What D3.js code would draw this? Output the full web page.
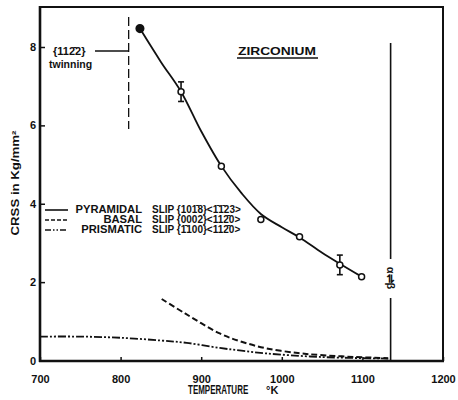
<!DOCTYPE html>
<html><head><meta charset="utf-8">
<script src="https://cdn.jsdelivr.net/npm/d3@7"></script>
<style>body{margin:0;background:#fff}svg{display:block}text{font-family:"Liberation Sans",Arial,sans-serif;font-weight:bold;fill:#111}</style>
</head><body><svg id="c" width="458" height="400"></svg>
<script>
// data
const xTicks = [700, 800, 900, 1000, 1100, 1200];
const yTicks = [0, 2, 4, 6, 8];
const pyrTemps = [824, 875, 925, 974, 1022, 1072, 1099];
const pyrValues = [8.47, 6.86, 4.96, 3.60, 3.16, 2.44, 2.14];
const pyrErr = [0, 0.25, 0, 0, 0, 0.25, 0];
const pyrCurveTemps = [824, 850, 875, 900, 925, 950, 974, 1000, 1022, 1050, 1072, 1099];
const pyrCurveValues = [8.47, 7.62, 6.86, 5.85, 4.96, 4.27, 3.74, 3.40, 3.14, 2.75, 2.47, 2.14];
const basalTemps = [851, 880, 923, 950, 981, 1020, 1047, 1090, 1132];
const basalValues = [1.57, 1.2, 0.69, 0.48, 0.31, 0.19, 0.14, 0.09, 0.06];
const prisTemps = [700, 750, 800, 850, 882, 923, 950, 981, 1047, 1132];
const prisValues = [0.61, 0.61, 0.58, 0.51, 0.45, 0.32, 0.25, 0.18, 0.09, 0.05];
const transitionTemp = 1135;
const twinTemp = 810;
const legendNames = ["PYRAMIDAL", "BASAL", "PRISMATIC"];
const legendPlanes = ["SLIP {101̄8}<1̄1̄23>", "SLIP {0002}<112̄0>", "SLIP {1̄100}<112̄0>"];

const svg = d3.select("#c");
const x = d3.scaleLinear().domain([700, 1200]).range([40, 443]);
const y = d3.scaleLinear().domain([0, 8]).range([360.5, 47]);
const ink = "#111";

// frame
svg.append("line").attr("x1",40).attr("x2",40).attr("y1",6).attr("y2",362).attr("stroke",ink).attr("stroke-width",2.6);
svg.append("line").attr("x1",39).attr("x2",444).attr("y1",361).attr("y2",361).attr("stroke",ink).attr("stroke-width",2.6);
svg.append("line").attr("x1",39).attr("x2",444).attr("y1",7).attr("y2",7).attr("stroke",ink).attr("stroke-width",2);
svg.append("line").attr("x1",443).attr("x2",443).attr("y1",6).attr("y2",362).attr("stroke",ink).attr("stroke-width",2);

// axes
const xa = svg.append("g").attr("transform","translate(0,361)")
  .call(d3.axisBottom(x).tickValues(xTicks).tickSizeInner(-4).tickSizeOuter(0).tickPadding(14).tickFormat(d3.format("d")));
xa.select(".domain").remove();
xa.selectAll("line").attr("stroke",ink).attr("stroke-width",1.5);
xa.selectAll("text").attr("font-size",11).attr("font-family","Liberation Sans, Arial, sans-serif").attr("font-weight","bold").attr("fill",ink);

const ya = svg.append("g").attr("transform","translate(40,0)")
  .call(d3.axisLeft(y).tickValues(yTicks).tickSizeInner(-5).tickSizeOuter(0).tickPadding(4).tickFormat(d3.format("d")));
ya.select(".domain").remove();
ya.selectAll("line").attr("stroke",ink).attr("stroke-width",1.5);
ya.selectAll("text").attr("font-size",11).attr("font-family","Liberation Sans, Arial, sans-serif").attr("font-weight","bold").attr("fill",ink);

// axis titles
svg.append("text").attr("transform","translate(188,394) scale(0.64,1)").attr("font-size",12.5).text("TEMPERATURE");
svg.append("text").attr("x",266).attr("y",394).attr("font-size",11).text("°K");
svg.append("text").attr("transform","translate(19,183) rotate(-90)").attr("text-anchor","middle").attr("font-size",10)
  .attr("textLength",105).attr("lengthAdjust","spacingAndGlyphs").text("CRSS  in  Kg/mm²");

// curves
const line = d3.line().x(d => x(d[0])).y(d => y(d[1])).curve(d3.curveCatmullRom);
svg.append("path").datum(d3.zip(pyrCurveTemps, pyrCurveValues))
  .attr("d", line).attr("fill","none").attr("stroke",ink).attr("stroke-width",1.8);
svg.append("path").datum(d3.zip(basalTemps, basalValues))
  .attr("d", line).attr("fill","none").attr("stroke",ink)
  .attr("stroke-width",2).attr("stroke-dasharray","6,3");
svg.append("path").datum(d3.zip(prisTemps, prisValues))
  .attr("d", line).attr("fill","none").attr("stroke",ink)
  .attr("stroke-width",1.8).attr("stroke-dasharray","8,2,2,2,2,2");

// markers
const pts = d3.zip(pyrTemps, pyrValues, pyrErr);
pts.forEach((p, i) => {
  const cx = x(p[0]), cy = y(p[1]);
  if (p[2] > 0) {
    const t = y(p[1] + p[2]), b = y(p[1] - p[2]);
    svg.append("line").attr("x1",cx).attr("x2",cx).attr("y1",t).attr("y2",b).attr("stroke",ink).attr("stroke-width",1.6);
    svg.append("line").attr("x1",cx-3).attr("x2",cx+3).attr("y1",t).attr("y2",t).attr("stroke",ink).attr("stroke-width",1.6);
    svg.append("line").attr("x1",cx-3).attr("x2",cx+3).attr("y1",b).attr("y2",b).attr("stroke",ink).attr("stroke-width",1.6);
  }
  svg.append("circle").attr("cx",cx).attr("cy",cy).attr("r", i === 0 ? 3.8 : 3)
    .attr("fill", i === 0 ? ink : "#fff").attr("stroke",ink).attr("stroke-width",1.5);
});

// alpha-beta transition line
const xt = x(transitionTemp);
svg.append("line").attr("x1",xt).attr("x2",xt).attr("y1",43).attr("y2",259).attr("stroke",ink).attr("stroke-width",1.6);
svg.append("line").attr("x1",xt).attr("x2",xt).attr("y1",298).attr("y2",361).attr("stroke",ink).attr("stroke-width",1.6);
svg.append("text").attr("transform",`translate(${xt-4},278) rotate(90)`).attr("text-anchor","middle").attr("font-size",11)
  .attr("font-family","DejaVu Sans").attr("font-weight","bold").text("α⇌β");

// twinning
const xw = x(twinTemp);
svg.append("line").attr("x1",xw).attr("x2",xw).attr("y1",17).attr("y2",129).attr("stroke",ink).attr("stroke-width",1.3).attr("stroke-dasharray","9,4");
svg.append("line").attr("x1",95).attr("x2",xw).attr("y1",51).attr("y2",51).attr("stroke",ink).attr("stroke-width",1.3);
svg.append("text").attr("x",53).attr("y",55).attr("font-size",11).text("{112̄2}");
svg.append("text").attr("x",49).attr("y",68).attr("font-size",10.5).text("twinning");

// title
svg.append("text").attr("x",277).attr("y",55).attr("text-anchor","middle").attr("font-size",11)
  .attr("textLength",78).attr("lengthAdjust","spacingAndGlyphs").text("ZIRCONIUM");
svg.append("line").attr("x1",237).attr("x2",318).attr("y1",58).attr("y2",58).attr("stroke",ink).attr("stroke-width",1.4);

// legend
const dashes = [null, "4,2", "6,2,1.5,2,1.5,2"];
legendNames.forEach((n, i) => {
  const yy = 213 + i * 10;
  svg.append("line").attr("x1",45).attr("x2",68).attr("y1",yy-3).attr("y2",yy-3).attr("stroke",ink).attr("stroke-width",1.6)
    .attr("stroke-dasharray", dashes[i]);
  svg.append("text").attr("transform",`translate(142,${yy}) scale(1.12,1)`).attr("text-anchor","end").attr("font-size",10).text(n);
  svg.append("text").attr("x",152).attr("y",yy).attr("font-size",10).text(legendPlanes[i]);
});
</script></body></html>
